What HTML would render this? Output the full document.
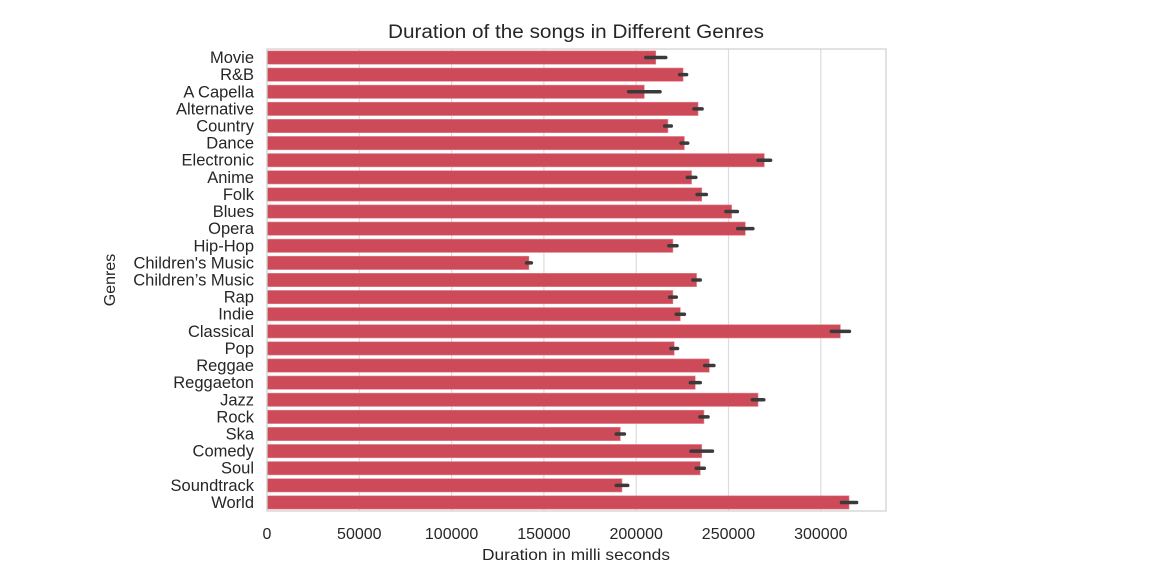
<!DOCTYPE html>
<html><head><meta charset="utf-8"><style>
body{margin:0;background:#fff;}
svg text{font-family:"Liberation Sans",Arial,sans-serif;fill:#262626;}
</style></head><body>
<svg id="chart" width="1156" height="568">
<g id="grid"></g><g id="bars"></g><g id="axes"></g>
</svg>
<script>
const genres=["Movie","R&B","A Capella","Alternative","Country","Dance","Electronic","Anime","Folk","Blues","Opera","Hip-Hop","Children's Music","Children\u2019s Music","Rap","Indie","Classical","Pop","Reggae","Reggaeton","Jazz","Rock","Ska","Comedy","Soul","Soundtrack","World"];
const durations=[210600,225400,204400,233500,217200,226100,269400,230000,235500,251700,259100,219900,141900,232700,219900,223900,310600,220600,239600,232000,266000,236700,191400,235500,234700,192300,315300];
const errors=[5400,1900,8500,2200,1800,1800,3400,2300,2500,3100,4100,2200,1300,2000,1800,2200,4900,1800,2500,2700,3100,2200,2200,5800,2200,3100,4100];
const xTicks=[0,50000,100000,150000,200000,250000,300000];
const NS="http://www.w3.org/2000/svg";
const L=267,R=886,T=49,B=511;
const x=v=>L+v*(92.3/50000);
const rowH=(B-T)/genres.length;
const y=i=>T+i*rowH;
function mk(tag,attrs,parent,txt){const e=document.createElementNS(NS,tag);for(const k in attrs)e.setAttribute(k,attrs[k]);if(txt!==undefined)e.textContent=txt;parent.appendChild(e);return e;}
const grid=document.getElementById('grid'),bars=document.getElementById('bars'),axes=document.getElementById('axes');
xTicks.forEach(t=>{
 const g=mk('line',{x1:x(t),x2:x(t),y1:T,y2:B,stroke:'#dcdcdc','stroke-width':1.2},grid);
 
 
 const tl=mk('text',{x:x(t),y:539,'text-anchor':'middle','font-size':16},axes,String(t));
 
 
});
genres.forEach((gname,i)=>{
 const yc=y(i)+rowH/2, bh=rowH*0.78;
 const b=mk('rect',{x:L,y:yc-bh/2,width:x(durations[i])-L,height:bh,fill:'#cd4a59',stroke:'#e38894','stroke-width':0.6},bars);
 
 
 const e=mk('line',{x1:x(durations[i]-errors[i]),x2:x(durations[i]+errors[i]),y1:yc,y2:yc,stroke:'#3a3a3a','stroke-width':3.5,'stroke-linecap':'round'},bars);
 
 
 const t=mk('text',{x:254,y:yc+5.5,'text-anchor':'end','font-size':16.5},axes,gname);
 
 
});
const fr=mk('rect',{x:L,y:T,width:R-L,height:B-T,fill:'none',stroke:'#d3d3d3','stroke-width':1.3},axes);


const ti=mk('text',{x:576,y:38,'text-anchor':'middle','font-size':19,textLength:376,lengthAdjust:'spacingAndGlyphs'},axes,'Duration of the songs in Different Genres');


const xl=mk('text',{x:576,y:560,'text-anchor':'middle','font-size':16,textLength:188,lengthAdjust:'spacingAndGlyphs'},axes,'Duration in milli seconds');


const yl=mk('text',{x:0,y:0,'text-anchor':'middle','font-size':16,transform:'translate(115,280) rotate(-90)'},axes,'Genres');


</script>
</body></html>
